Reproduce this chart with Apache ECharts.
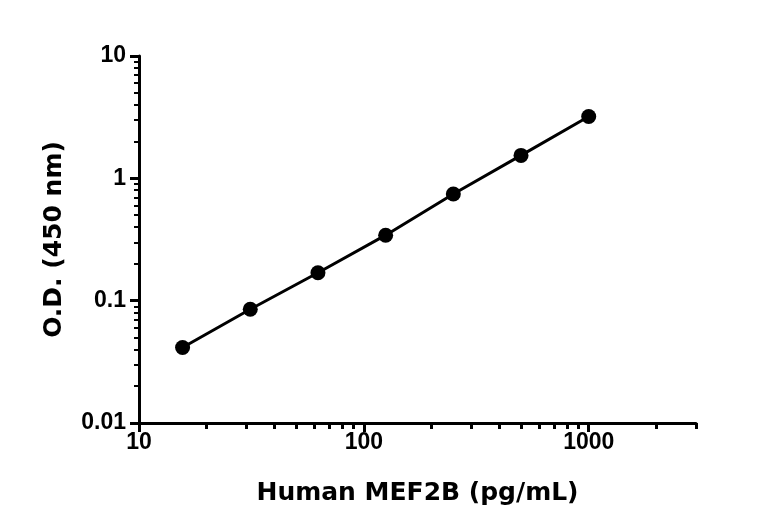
<!DOCTYPE html>
<html>
<head>
<meta charset="UTF-8">
<title>Human MEF2B standard curve</title>
<script src="https://cdn.jsdelivr.net/npm/echarts@6/dist/echarts.min.js"></script>
<style>
  html, body { margin: 0; padding: 0; background: #fff; }
  #chart { width: 768px; height: 532px; }
</style>
</head>
<body>
<div id="chart"></div>
<script>
// concentrations (pg/mL) and O.D. readings
var conc = [15.625, 31.25, 62.5, 125, 250, 500, 1000];
var od = [0.0414, 0.0851, 0.169, 0.343, 0.745, 1.54, 3.2];

// tick positions
var xMajor = [10, 100, 1000];
var xMinor = [20, 30, 40, 50, 60, 70, 80, 90, 200, 300, 400, 500, 600, 700, 800, 900, 2000, 3000];
var yMajor = [0.01, 0.1, 1, 10];
var yMinor = [0.02, 0.03, 0.04, 0.05, 0.06, 0.07, 0.08, 0.09,
              0.2, 0.3, 0.4, 0.5, 0.6, 0.7, 0.8, 0.9,
              2, 3, 4, 5, 6, 7, 8, 9];

var points = conc.map(function (c, i) { return [c, od[i]]; });

var tickFont = { fontFamily: 'Liberation Sans, Arial, sans-serif', fontWeight: 'bold', fontSize: 23, color: '#000' };
var titleFont = { fontFamily: 'DejaVu Sans', fontWeight: 'bold', fontSize: 25, color: '#000' };

function plain(v) { return String(+v.toPrecision(3)); }

var option = {
  animation: false,
  grid: { left: 139, right: 72, top: 56, bottom: 109, containLabel: false },
  xAxis: [{
    type: 'log', logBase: 10, min: 10, max: 3000,
    name: 'Human MEF2B (pg/mL)', nameLocation: 'middle', nameGap: 58,
    nameTextStyle: titleFont,
    axisLine: { lineStyle: { color: '#000', width: 3 } },
    axisTick: { customValues: xMajor, length: 9, lineStyle: { color: '#000', width: 3 } },
    axisLabel: Object.assign({ customValues: xMajor, margin: 8, formatter: plain }, tickFont),
    splitLine: { show: false }
  }, {
    type: 'log', logBase: 10, min: 10, max: 3000, position: 'bottom',
    axisLine: { show: false },
    axisTick: { customValues: xMinor, length: 6, lineStyle: { color: '#000', width: 3 } },
    axisLabel: { show: false },
    splitLine: { show: false }
  }],
  yAxis: [{
    type: 'log', logBase: 10, min: 0.01, max: 10,
    name: 'O.D. (450 nm)', nameLocation: 'middle', nameGap: 72, nameRotate: 90,
    nameTextStyle: titleFont,
    axisLine: { lineStyle: { color: '#000', width: 3 } },
    axisTick: { customValues: yMajor, length: 9, lineStyle: { color: '#000', width: 3 } },
    axisLabel: Object.assign({ customValues: yMajor, margin: 13, formatter: plain }, tickFont),
    splitLine: { show: false }
  }, {
    type: 'log', logBase: 10, min: 0.01, max: 10, position: 'left',
    axisLine: { show: false },
    axisTick: { customValues: yMinor, length: 5, lineStyle: { color: '#000', width: 2 } },
    axisLabel: { show: false },
    splitLine: { show: false }
  }],
  series: [{
    type: 'line',
    xAxisIndex: 0, yAxisIndex: 0,
    data: points,
    symbol: 'circle', symbolSize: 15,
    itemStyle: { color: '#000' },
    lineStyle: { color: '#000', width: 3 }
  }]
};

var chart = echarts.init(document.getElementById('chart'));
chart.setOption(option);
</script>
</body>
</html>
